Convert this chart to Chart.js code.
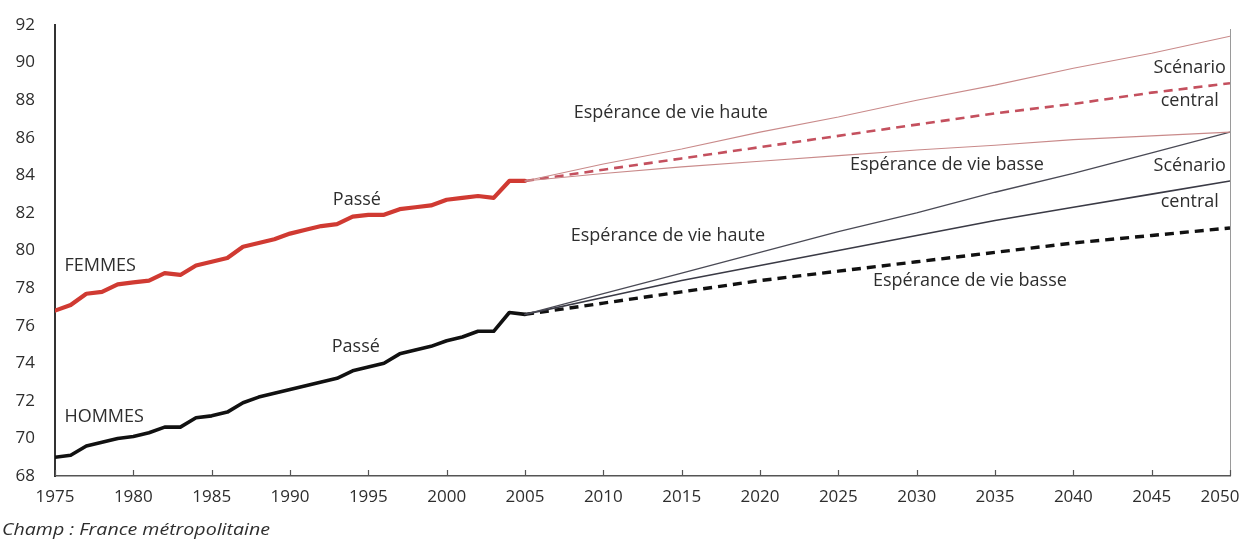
<!DOCTYPE html>
<html><head><meta charset="utf-8">
<script src="https://cdn.jsdelivr.net/npm/chart.js@4.4.1/dist/chart.umd.min.js"></script>
<style>html,body{margin:0;padding:0;background:#fff;}#wrap{width:1240px;height:539px;position:relative;}</style>
</head><body><div id="wrap"><canvas id="c" width="1240" height="539"></canvas></div>
<script>
// ---- Data ----
const pastYears = [1975,1976,1977,1978,1979,1980,1981,1982,1983,1984,1985,1986,1987,1988,1989,1990,1991,1992,1993,1994,1995,1996,1997,1998,1999,2000,2001,2002,2003,2004,2005];
const femmesPasse = [76.8,77.1,77.7,77.8,78.2,78.3,78.4,78.8,78.7,79.2,79.4,79.6,80.2,80.4,80.6,80.9,81.1,81.3,81.4,81.8,81.9,81.9,82.2,82.3,82.4,82.7,82.8,82.9,82.8,83.7,83.7];
const hommesPasse = [69.0,69.1,69.6,69.8,70.0,70.1,70.3,70.6,70.6,71.1,71.2,71.4,71.9,72.2,72.4,72.6,72.8,73.0,73.2,73.6,73.8,74.0,74.5,74.7,74.9,75.2,75.4,75.7,75.7,76.7,76.6];
const projYears = [2005,2010,2015,2020,2025,2030,2035,2040,2045,2050];
const femmesHaute   = [83.7,84.6,85.4,86.3,87.1,88.0,88.8,89.7,90.5,91.4];
const femmesCentral = [83.7,84.3,84.9,85.5,86.1,86.7,87.3,87.8,88.4,88.9];
const femmesBasse   = [83.7,84.1,84.45,84.75,85.05,85.35,85.6,85.9,86.1,86.3];
const hommesHaute   = [76.6,77.7,78.8,79.9,81.0,82.0,83.1,84.1,85.2,86.3];
const hommesCentral = [76.6,77.5,78.4,79.2,80.0,80.8,81.6,82.3,83.0,83.7];
const hommesBasse   = [76.6,77.2,77.8,78.4,78.9,79.4,79.9,80.4,80.8,81.2];
const xTickLabels = [1975,1980,1985,1990,1995,2000,2005,2010,2015,2020,2025,2030,2035,2040,2045,2050];
const yTickLabels = [68,70,72,74,76,78,80,82,84,86,88,90,92];

const FONT = '"Open Sans", "Noto Sans", sans-serif';
const TXT = '#2e2e2e';

function pts(xs, ys){ return xs.map((x,i)=>({x:x,y:ys[i]})); }

const annotations = [
  {t:'FEMMES', x:1975.6, y:79.18, align:'left'},
  {t:'HOMMES', x:1975.6, y:71.14, align:'left'},
  {t:'Passé', x:1994.27, y:82.69, align:'center'},
  {t:'Passé', x:1994.2, y:74.87, align:'center'},
  {t:'Espérance de vie haute', x:2014.31, y:87.32, align:'center'},
  {t:'Espérance de vie basse', x:2031.93, y:84.55, align:'center'},
  {t:'Scénario', x:2047.43, y:89.71, align:'center'},
  {t:'central', x:2047.43, y:87.96, align:'center'},
  {t:'Scénario', x:2047.43, y:84.5, align:'center'},
  {t:'central', x:2047.43, y:82.58, align:'center'},
  {t:'Espérance de vie haute', x:2014.12, y:80.77, align:'center'},
  {t:'Espérance de vie basse', x:2033.4, y:78.38, align:'center'}
];

const decor = {
  id:'decor',
  beforeDraw(chart){
    // keep the last year label inside the canvas, as in the original
    const items = chart.scales.x.getLabelItems();
    if (items.length) { const last = items[items.length-1]; last.options.translation[0] -= 10; }
  },
  afterDraw(chart){
    const ctx = chart.ctx, a = chart.chartArea, xs = chart.scales.x, ys = chart.scales.y;
    ctx.save();
    // right frame line
    ctx.strokeStyle = '#9a9a9a'; ctx.lineWidth = 1;
    ctx.beginPath(); ctx.moveTo(a.right+0.5, a.top+4); ctx.lineTo(a.right+0.5, a.bottom); ctx.stroke();
    // inward x ticks
    ctx.strokeStyle = '#555'; ctx.lineWidth = 1.2;
    xTickLabels.forEach(v=>{
      const px = Math.round(xs.getPixelForValue(v))+0.5;
      ctx.beginPath(); ctx.moveTo(px, a.bottom); ctx.lineTo(px, a.bottom-6); ctx.stroke();
    });
    // annotations
    ctx.fillStyle = TXT; ctx.textBaseline = 'middle';
    ctx.font = '18px ' + FONT;
    annotations.forEach(n=>{
      ctx.textAlign = n.align;
      ctx.fillText(n.t, xs.getPixelForValue(n.x), ys.getPixelForValue(n.y));
    });
    // footer
    const foot = 'Champ : France métropolitaine';
    ctx.font = 'italic 16px ' + FONT;
    ctx.textAlign = 'left';
    const w = ctx.measureText(foot).width;
    ctx.translate(2, 530);
    ctx.scale(268 / w, 1);
    ctx.fillText(foot, 0, 0);
    ctx.restore();
  }
};

const ds = (label, data, color, width, dash) => ({
  label, data, borderColor: color, borderWidth: width, borderDash: dash || [],
  pointRadius: 0, tension: 0, fill: false, borderCapStyle: dash ? 'butt' : 'round', borderJoinStyle:'round'
});

new Chart(document.getElementById('c'), {
  type: 'line',
  data: {
    datasets: [
      ds('Femmes haute', pts(projYears, femmesHaute), '#c98a8a', 1.1),
      ds('Femmes basse', pts(projYears, femmesBasse), '#c98a8a', 1.1),
      ds('Femmes central', pts(projYears, femmesCentral), '#c4505e', 2.6, [9,6]),
      ds('Hommes haute', pts(projYears, hommesHaute), '#4a4a55', 1.3),
      ds('Hommes central', pts(projYears, hommesCentral), '#3a3a45', 1.6),
      ds('Hommes basse', pts(projYears, hommesBasse), '#111', 3.4, [9,6]),
      ds('Femmes passé', pts(pastYears, femmesPasse), '#d03a32', 4.2),
      ds('Femmes passé coeur', pts(pastYears, femmesPasse), '#6e221d', 1.4),
      ds('Hommes passé', pts(pastYears, hommesPasse), '#111', 3.6)
    ]
  },
  plugins: [decor],
  options: {
    responsive: false,
    animation: false,
    layout: { padding: { top: 25, right: 10, bottom: 23, left: 0 } },
    plugins: { legend: { display: false }, tooltip: { enabled: false }, title: { display: false } },
    scales: {
      x: {
        type: 'linear', min: 1975, max: 2050,
        afterBuildTicks: s => { s.ticks = xTickLabels.map(v=>({value:v})); },
        afterFit: s => { s.height = 40; s.paddingLeft = 0; s.paddingRight = 0; },
        grid: { display: false, drawTicks: false },
        border: { display: true, color: '#555', width: 1.5 },
        ticks: { padding: 11, color: TXT, font: { family: FONT, size: 17 }, maxRotation: 0, autoSkip: false, callback: v => String(v) }
      },
      y: {
        type: 'linear', min: 68, max: 92,
        afterBuildTicks: s => { s.ticks = yTickLabels.map(v=>({value:v})); },
        afterFit: s => { s.width = 55; s.paddingTop = 0; s.paddingBottom = 0; },
        grid: { display: false, drawTicks: false },
        border: { display: true, color: '#333', width: 2 },
        ticks: { padding: 20, color: TXT, font: { family: FONT, size: 17 }, callback: v => String(v) }
      }
    }
  }
});
</script></body></html>
